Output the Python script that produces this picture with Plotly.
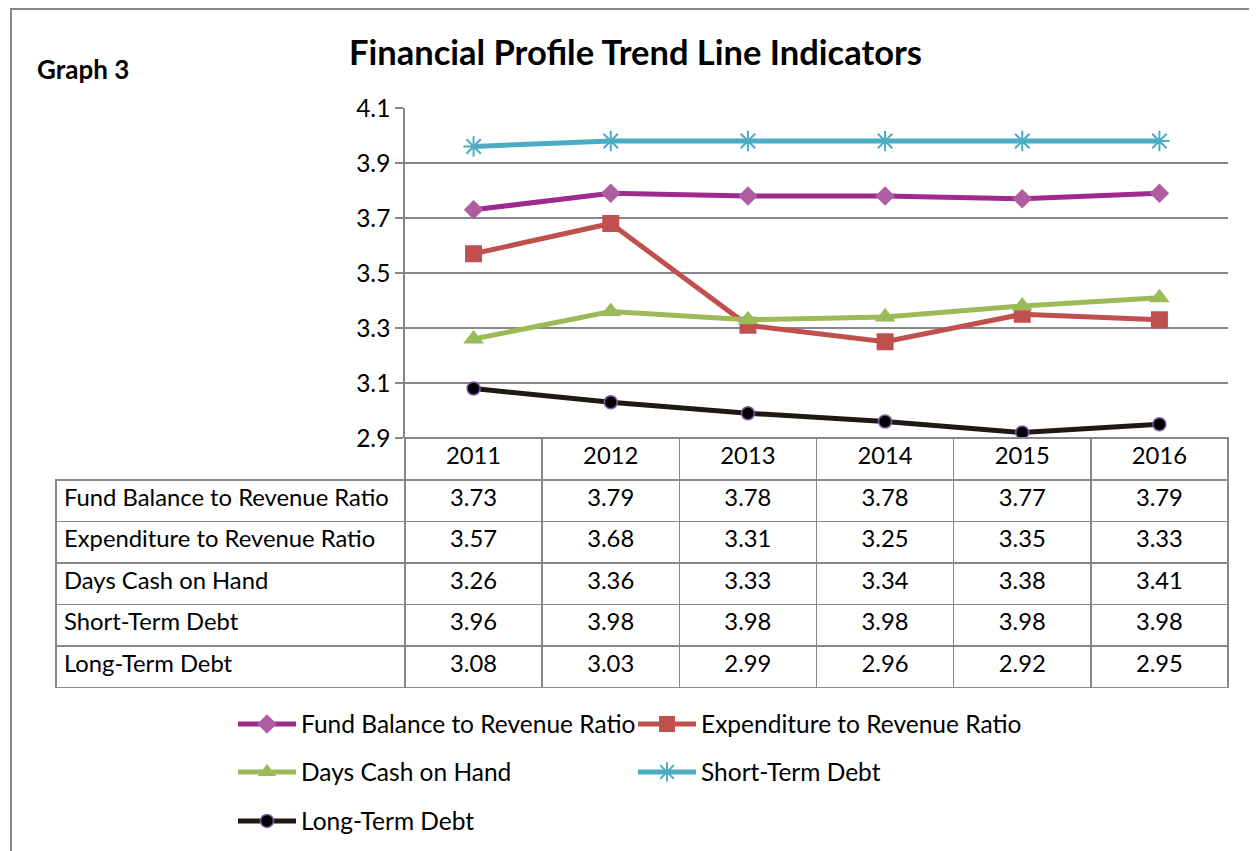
import plotly.graph_objects as go

# ---------------- data ----------------
years = ["2011", "2012", "2013", "2014", "2015", "2016"]
series_names = [
    "Fund Balance to Revenue Ratio",
    "Expenditure to Revenue Ratio",
    "Days Cash on Hand",
    "Short-Term Debt",
    "Long-Term Debt",
]
fund_balance = [3.73, 3.79, 3.78, 3.78, 3.77, 3.79]
expenditure = [3.57, 3.68, 3.31, 3.25, 3.35, 3.33]
days_cash = [3.26, 3.36, 3.33, 3.34, 3.38, 3.41]
short_term_debt = [3.96, 3.98, 3.98, 3.98, 3.98, 3.98]
long_term_debt = [3.08, 3.03, 2.99, 2.96, 2.92, 2.95]
y_tick_values = [2.9, 3.1, 3.3, 3.5, 3.7, 3.9, 4.1]

all_series = [fund_balance, expenditure, days_cash, short_term_debt, long_term_debt]

# ---------------- layout helpers ----------------
W, H = 1257, 851
OFF = 8  # page body margin
FONT = "Lato"
GRID = "#878787"
TXT = 24.5
TABLE_TXT = 23.8


def px(xp):
    return (xp - OFF) / W


def py(yp):
    return 1 - (yp - OFF) / H


styles = [
    dict(line=dict(color="#9E2A8E", width=5),
         marker=dict(symbol="diamond", size=15, color="#AE5EA0")),
    dict(line=dict(color="#C0504D", width=5),
         marker=dict(symbol="square", size=17, color="#C0504D")),
    dict(line=dict(color="#9BBB59", width=5),
         marker=dict(symbol="triangle-up", size=18, color="#9BBB59")),
    dict(line=dict(color="#4BACC6", width=5),
         marker=dict(symbol="asterisk-open", size=17,
                     line=dict(color="#4BACC6", width=2))),
    dict(line=dict(color="#1E1A12", width=5),
         marker=dict(symbol="circle", size=13, color="#000000",
                     line=dict(color="#7E5CA6", width=1.5))),
]

legend_ids = ["legend", "legend2", "legend3", "legend4", "legend5"]
legend_pos = [(233, 724), (633, 724), (233, 772), (633, 772), (233, 821)]

fig = go.Figure()
for name, vals, st, lid in zip(series_names, all_series, styles, legend_ids):
    fig.add_trace(go.Scatter(
        x=years, y=vals, name=name, mode="lines+markers",
        line=st["line"], marker=st["marker"], cliponaxis=False,
        legend=lid, xaxis="x", yaxis="y",
    ))

# data table below the chart
table_cols = [series_names] + [
    [f"{s[i]:.2f}" for s in all_series] for i in range(len(years))
]
fig.add_trace(go.Table(
    domain=dict(x=[px(56), px(1228)], y=[py(688), py(438)]),
    columnwidth=[349] + [137.2] * len(years),
    header=dict(
        values=[""] + years,
        height=42,
        align="center",
        line=dict(color=["rgba(0,0,0,0)"] + [GRID] * len(years), width=1.5),
        fill=dict(color=["rgba(0,0,0,0)"] + ["#FFFFFF"] * len(years)),
        font=dict(family=FONT, size=TABLE_TXT, color="#000000"),
    ),
    cells=dict(
        values=table_cols,
        height=41.5,
        align=["left"] + ["center"] * len(years),
        line=dict(color=GRID, width=1.5),
        fill=dict(color="#FFFFFF"),
        font=dict(family=FONT, size=TABLE_TXT, color="#000000"),
    ),
))

legend_layout = {}
for lid, (lx, ly) in zip(legend_ids, legend_pos):
    legend_layout[lid] = dict(
        x=px(lx), y=py(ly), xanchor="left", yanchor="middle",
        orientation="h", bgcolor="rgba(0,0,0,0)", borderwidth=0,
        itemwidth=58, font=dict(family=FONT, size=TXT, color="#000000"),
        tracegroupgap=0,
    )

fig.update_layout(
    width=W, height=H,
    margin=dict(l=0, r=0, t=0, b=0, pad=0, autoexpand=False),
    paper_bgcolor="#FFFFFF", plot_bgcolor="#FFFFFF",
    showlegend=True,
    font=dict(family=FONT, size=TXT, color="#000000"),
    xaxis=dict(
        domain=[px(405), px(1228)], range=[-0.5, 5.5], automargin=False,
        type="category", showticklabels=False, showgrid=False,
        zeroline=False, showline=False, ticks="",
    ),
    yaxis=dict(
        domain=[py(438), py(108)], range=[2.9, 4.1], automargin=False,
        tickvals=y_tick_values, ticktext=[f"{v:.1f}" for v in y_tick_values],
        showgrid=True, gridcolor=GRID, gridwidth=1.5,
        showline=True, linecolor=GRID, linewidth=1.5,
        ticks="outside", ticklen=8, tickcolor=GRID, tickwidth=1.5,
        zeroline=False, tickfont=dict(family=FONT, size=TXT, color="#000000"),
    ),
    shapes=[
        dict(type="rect", xref="paper", yref="paper",
             x0=px(11), x1=px(1280), y0=py(880), y1=py(9),
             line=dict(color=GRID, width=2)),
    ],
    annotations=[
        dict(text="<b>Graph 3</b>", x=px(35), y=py(69), xref="paper",
             yref="paper", xanchor="left", yanchor="middle",
             showarrow=False, font=dict(family=FONT, size=26, color="#000000")),
        dict(text="<b>Financial Profile Trend Line Indicators</b>",
             x=px(635), y=py(51), xref="paper", yref="paper",
             xanchor="center", yanchor="middle", showarrow=False,
             font=dict(family=FONT, size=34.5, color="#000000")),
    ],
    **legend_layout,
)

fig.write_html("out.html")
